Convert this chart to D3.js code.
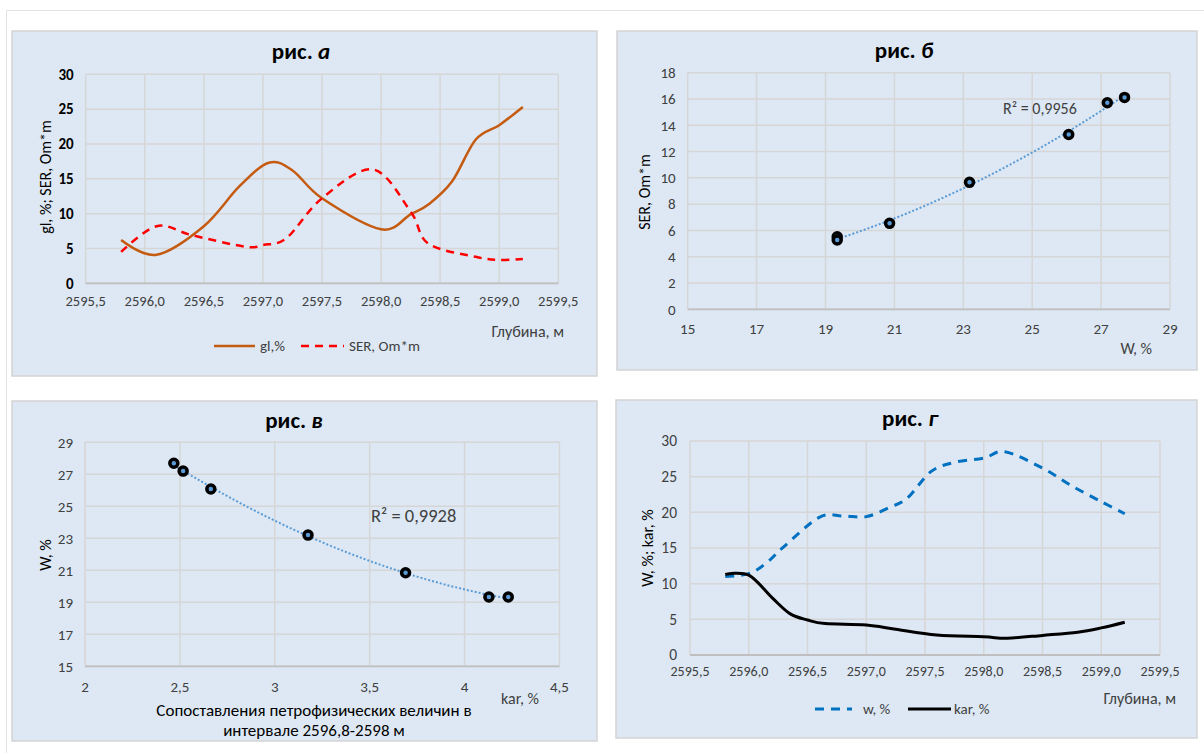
<!DOCTYPE html>
<html>
<head>
<meta charset="utf-8">
<script src="https://cdn.jsdelivr.net/npm/d3@7"></script>
<style>
  body { margin: 0; background: #fff; }
  svg { display: block; font-family: Carlito, Lato, "Open Sans", sans-serif; }
</style>
</head>
<body>
<svg id="chart" width="1204" height="753"></svg>
<script>
// ---- data ----
// рис. а : depth vs gl,% and SER
const glDepth = [2595.8, 2596.1, 2596.5, 2596.8, 2597.05, 2597.25, 2597.5, 2598.0, 2598.25, 2598.4, 2598.6, 2598.8, 2599.0, 2599.2];
const glValues = [6.2, 4.1, 8.2, 13.9, 17.3, 16.2, 12.2, 7.75, 9.9, 11.3, 14.6, 20.6, 22.7, 25.3];
const serDepth = [2595.8, 2596.1, 2596.4, 2596.85, 2597.0, 2597.2, 2597.5, 2597.93, 2598.25, 2598.4, 2598.8, 2599.0, 2599.2];
const serValues = [4.5, 8.2, 6.9, 5.25, 5.5, 6.5, 12.2, 16.35, 10.3, 5.7, 3.8, 3.35, 3.5];

// рис. б : W vs SER
const bW = [19.34, 19.34, 20.86, 23.18, 26.06, 27.18, 27.68];
const bSER = [5.52, 5.27, 6.54, 9.66, 13.3, 15.71, 16.12];

// рис. в : kar vs W
const vKar = [2.468, 2.517, 2.663, 3.175, 3.689, 4.128, 4.23];
const vW = [27.69, 27.2, 26.08, 23.2, 20.85, 19.33, 19.33];

// рис. г : depth vs w,% and kar,%
const wDepth = [2595.8, 2596.0, 2596.15, 2596.3, 2596.6, 2596.8, 2597.0, 2597.2, 2597.35, 2597.55, 2597.75, 2598.0, 2598.18, 2598.5, 2598.75, 2599.0, 2599.2];
const wValues = [11.0, 11.4, 12.9, 15.2, 19.3, 19.5, 19.4, 20.7, 22.0, 25.7, 27.0, 27.6, 28.5, 26.2, 23.7, 21.5, 19.8];
const karDepth = [2595.8, 2596.0, 2596.2, 2596.35, 2596.5, 2596.65, 2597.0, 2597.25, 2597.6, 2598.0, 2598.2, 2598.5, 2598.8, 2599.0, 2599.2];
const karValues = [11.3, 11.2, 8.0, 5.8, 4.9, 4.4, 4.2, 3.6, 2.8, 2.55, 2.35, 2.75, 3.2, 3.8, 4.6];

// ticks
const depthTicks = [2595.5, 2596.0, 2596.5, 2597.0, 2597.5, 2598.0, 2598.5, 2599.0, 2599.5];
const aYTicks = [0, 5, 10, 15, 20, 25, 30];
const bXTicks = [15, 17, 19, 21, 23, 25, 27, 29];
const bYTicks = [0, 2, 4, 6, 8, 10, 12, 14, 16, 18];
const vXTicks = [2, 2.5, 3, 3.5, 4, 4.5];
const vYTicks = [15, 17, 19, 21, 23, 25, 27, 29];
const gYTicks = [0, 5, 10, 15, 20, 25, 30];

const svg = d3.select("#chart");
const comma = d => String(d).replace(".", ",");
const depthFmt = d => d3.format(".1f")(d).replace(".", ",");

// page frame lines
svg.append("line").attr("x1", 6).attr("x2", 1204).attr("y1", 10.5).attr("y2", 10.5).attr("stroke", "#e3e3e3");
svg.append("line").attr("x1", 6.5).attr("x2", 6.5).attr("y1", 10).attr("y2", 753).attr("stroke", "#e3e3e3");

function panel(o) {
  const g = svg.append("g");
  g.append("rect")
    .attr("x", o.box[0]).attr("y", o.box[1])
    .attr("width", o.box[2] - o.box[0]).attr("height", o.box[3] - o.box[1])
    .attr("fill", "#dde8f4").attr("stroke", "#d4d4d4").attr("stroke-width", 1.5);

  // title
  const t = g.append("text")
    .attr("x", o.titleX).attr("y", o.titleY)
    .attr("text-anchor", "middle")
    .style("font-size", "23px").style("font-weight", "bold").attr("fill", "#000");
  t.append("tspan").text("рис. ");
  t.append("tspan").style("font-style", "italic").text(o.letter);

  const x = d3.scaleLinear().domain(o.xDomain).range([o.plot[0], o.plot[1]]);
  const y = d3.scaleLinear().domain(o.yDomain).range([o.plot[3], o.plot[2]]);

  // grid
  g.selectAll(null).data(o.xTicks).enter().append("line")
    .attr("x1", d => x(d)).attr("x2", d => x(d))
    .attr("y1", o.plot[2]).attr("y2", o.plot[3])
    .attr("stroke", "#d6d6d6").attr("stroke-width", 1.5);
  g.selectAll(null).data(o.yTicks).enter().append("line")
    .attr("x1", o.plot[0]).attr("x2", o.plot[1])
    .attr("y1", d => y(d)).attr("y2", d => y(d))
    .attr("stroke", "#d6d6d6").attr("stroke-width", 1.5);
  // bottom axis
  g.append("line")
    .attr("x1", o.plot[0]).attr("x2", o.plot[1])
    .attr("y1", o.plot[3]).attr("y2", o.plot[3])
    .attr("stroke", "#bfbfbf").attr("stroke-width", 1.8);

  // tick labels
  g.selectAll(null).data(o.yTicks).enter().append("text")
    .attr("x", o.plot[0] - o.yLabelGap).attr("y", d => y(d))
    .attr("dy", "0.35em").attr("text-anchor", "end")
    .style("font-size", o.yTickSize + "px")
    .style("font-weight", o.boldY ? "bold" : "normal")
    .attr("fill", o.boldY ? "#000" : "#404040")
    .text(d => o.yFmt(d));
  g.selectAll(null).data(o.xTicks).enter().append("text")
    .attr("x", d => x(d)).attr("y", o.plot[3] + o.xLabelGap)
    .attr("dy", "0.35em").attr("text-anchor", "middle")
    .style("font-size", o.xTickSize + "px")
    .attr("fill", "#404040")
    .text(d => o.xFmt(d));

  // y axis title
  g.append("text")
    .attr("transform", `translate(${o.yTitle[0]},${o.yTitle[1]}) rotate(-90)`)
    .attr("text-anchor", "middle").attr("dy", "0.35em")
    .style("font-size", "16px").attr("fill", "#000")
    .text(o.yTitleText);
  // x axis title
  g.append("text")
    .attr("x", o.xTitle[0]).attr("y", o.xTitle[1])
    .attr("dy", "0.35em").attr("text-anchor", "end")
    .style("font-size", "16px").attr("fill", "#404040")
    .text(o.xTitleText);

  return { g, x, y };
}

// least-squares quadratic, as an Excel polynomial trendline
function polyFit2(xs, ys) {
  let s = [0, 0, 0, 0, 0], r = [0, 0, 0];
  xs.forEach((xv, i) => {
    for (let k = 0; k < 5; k++) s[k] += Math.pow(xv, k);
    for (let k = 0; k < 3; k++) r[k] += ys[i] * Math.pow(xv, k);
  });
  const A = [[s[0], s[1], s[2], r[0]], [s[1], s[2], s[3], r[1]], [s[2], s[3], s[4], r[2]]];
  for (let i = 0; i < 3; i++) {
    for (let j = i + 1; j < 3; j++) {
      const f = A[j][i] / A[i][i];
      for (let k = i; k < 4; k++) A[j][k] -= f * A[i][k];
    }
  }
  const c = [0, 0, 0];
  for (let i = 2; i >= 0; i--) {
    let v = A[i][3];
    for (let k = i + 1; k < 3; k++) v -= A[i][k] * c[k];
    c[i] = v / A[i][i];
  }
  return xv => c[0] + c[1] * xv + c[2] * xv * xv;
}

const smooth = d3.curveCatmullRom.alpha(0);

function seriesLine(p, xs, ys, color, width, dash) {
  const line = d3.line().x(d => p.x(d[0])).y(d => p.y(d[1])).curve(smooth);
  p.g.append("path")
    .datum(d3.zip(xs, ys))
    .attr("d", line)
    .attr("fill", "none").attr("stroke", color).attr("stroke-width", width)
    .attr("stroke-dasharray", dash || null);
}

function scatter(p, xs, ys, r2Text, r2Pos, r2Size) {
  const fit = polyFit2(xs, ys);
  const ext = d3.extent(xs);
  const pts = d3.range(0, 41).map(i => ext[0] + (ext[1] - ext[0]) * i / 40);
  p.g.append("path")
    .datum(pts)
    .attr("d", d3.line().x(d => p.x(d)).y(d => p.y(fit(d))))
    .attr("fill", "none").attr("stroke", "#5b9bd5").attr("stroke-width", 2)
    .attr("stroke-dasharray", "2,2");
  p.g.selectAll(null).data(d3.zip(xs, ys)).enter().append("circle")
    .attr("cx", d => p.x(d[0])).attr("cy", d => p.y(d[1])).attr("r", 4)
    .attr("fill", "#5b9bd5").attr("stroke", "#000").attr("stroke-width", 3.5);
  p.g.append("text")
    .attr("x", r2Pos[0]).attr("y", r2Pos[1])
    .style("font-size", r2Size + "px").attr("fill", "#404040")
    .text(r2Text);
}

function legend(g, items, yPos) {
  items.forEach(it => {
    g.append("line")
      .attr("x1", it.x1).attr("x2", it.x2).attr("y1", yPos).attr("y2", yPos)
      .attr("stroke", it.color).attr("stroke-width", it.width)
      .attr("stroke-dasharray", it.dash || null);
    g.append("text")
      .attr("x", it.tx).attr("y", yPos).attr("dy", "0.35em")
      .style("font-size", "15px").attr("fill", "#404040")
      .text(it.label);
  });
}

// ---- рис. а ----
const pa = panel({
  box: [12, 31, 597, 376], letter: "а", titleX: 301, titleY: 59,
  plot: [85.7, 558.3, 74.3, 283.3],
  xDomain: [2595.5, 2599.5], yDomain: [0, 30],
  xTicks: depthTicks, yTicks: aYTicks, xFmt: depthFmt, yFmt: comma,
  boldY: true, yTickSize: 15, xTickSize: 14.5, yLabelGap: 12, xLabelGap: 18,
  yTitle: [45, 177], yTitleText: "gl, %; SER, Om*m",
  xTitle: [564, 331], xTitleText: "Глубина, м"
});
seriesLine(pa, glDepth, glValues, "#c55a11", 2.5);
seriesLine(pa, serDepth, serValues, "#ff0000", 2.5, "8,6");
legend(pa.g, [
  { x1: 214, x2: 255, tx: 260, color: "#c55a11", width: 2.5, label: "gl,%" },
  { x1: 301, x2: 344, tx: 349, color: "#ff0000", width: 2.5, dash: "8,6", label: "SER, Om*m" }
], 346);

// ---- рис. б ----
const pb = panel({
  box: [617, 31, 1197, 370], letter: "б", titleX: 904, titleY: 58,
  plot: [687.7, 1170, 72.7, 309.3],
  xDomain: [15, 29], yDomain: [0, 18],
  xTicks: bXTicks, yTicks: bYTicks, xFmt: comma, yFmt: comma,
  boldY: false, yTickSize: 15, xTickSize: 15, yLabelGap: 12, xLabelGap: 19,
  yTitle: [644, 192], yTitleText: "SER, Om*m",
  xTitle: [1152, 348], xTitleText: "W, %"
});
scatter(pb, bW, bSER, "R² = 0,9956", [1003, 114], 16);

// ---- рис. в ----
const pv = panel({
  box: [12, 401, 597, 741], letter: "в", titleX: 294, titleY: 428,
  plot: [85, 559.5, 442.3, 666.3],
  xDomain: [2, 4.5], yDomain: [15, 29],
  xTicks: vXTicks, yTicks: vYTicks, xFmt: comma, yFmt: comma,
  boldY: false, yTickSize: 15, xTickSize: 15, yLabelGap: 12, xLabelGap: 20,
  yTitle: [45, 555], yTitleText: "W, %",
  xTitle: [539, 698], xTitleText: "kar, %"
});
scatter(pv, vKar, vW, "R² = 0,9928", [371, 522], 18.5);
pv.g.append("text").attr("x", 314).attr("y", 710).attr("dy", "0.35em")
  .attr("text-anchor", "middle").style("font-size", "17px").attr("fill", "#000")
  .text("Сопоставления петрофизических величин в");
pv.g.append("text").attr("x", 314).attr("y", 730).attr("dy", "0.35em")
  .attr("text-anchor", "middle").style("font-size", "17px").attr("fill", "#000")
  .text("интервале 2596,8-2598 м");

// ---- рис. г ----
const pg = panel({
  box: [616, 400, 1197, 738], letter: "г", titleX: 910, titleY: 426,
  plot: [690, 1160, 441, 655],
  xDomain: [2595.5, 2599.5], yDomain: [0, 30],
  xTicks: depthTicks, yTicks: gYTicks, xFmt: depthFmt, yFmt: comma,
  boldY: false, yTickSize: 15.5, xTickSize: 14, yLabelGap: 13, xLabelGap: 16,
  yTitle: [647, 548], yTitleText: "W, %; kar, %",
  xTitle: [1176, 698], xTitleText: "Глубина, м"
});
seriesLine(pg, wDepth, wValues, "#0070c0", 3, "9,7");
seriesLine(pg, karDepth, karValues, "#000000", 3);
legend(pg.g, [
  { x1: 815, x2: 852, tx: 863, color: "#0070c0", width: 3, dash: "9,7", label: "w, %" },
  { x1: 908, x2: 951, tx: 954, color: "#000000", width: 3, label: "kar, %" }
], 709);
</script>
</body>
</html>
